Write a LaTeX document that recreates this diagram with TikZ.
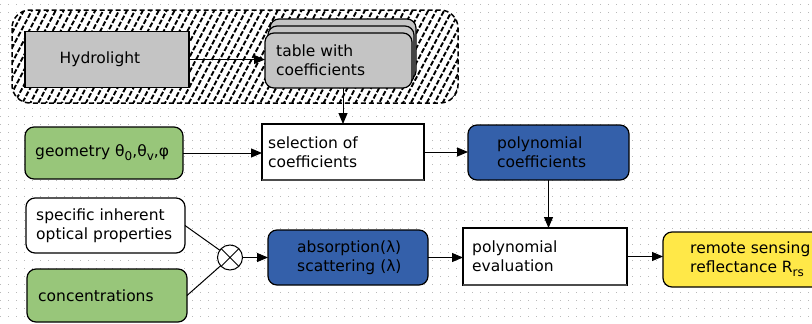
\documentclass[tikz,border=0pt]{standalone}
\usepackage{fontspec}
\setmainfont{DejaVu Sans}
\usetikzlibrary{arrows.meta,patterns.meta}
\definecolor{boxgray}{RGB}{196,196,196}
\definecolor{boxgreen}{RGB}{152,198,122}
\definecolor{boxblue}{RGB}{52,96,170}
\definecolor{boxyellow}{RGB}{255,232,72}
\definecolor{griddot}{RGB}{185,185,185}
\newcommand{\lsub}[1]{\raisebox{-0.45ex}{\fontsize{12}{12}\selectfont #1}}
\begin{document}
\begin{tikzpicture}[x=1pt,y=-1pt,
  box/.style={draw, line width=1.2pt, inner sep=0pt, outer sep=0pt},
  rbox/.style={box, rounded corners=9pt},
  txt/.style={anchor=west, align=left, inner sep=0pt, font=\fontsize{15.5}{19}\selectfont},
  conn/.style={line width=1pt, -{Triangle[length=11pt,width=9pt]}},
  plain/.style={line width=1pt},
]
\useasboundingbox (0,0) rectangle (812,324);
\fill[white] (0,0) rectangle (812,324);
\foreach \y in {4,12,...,324}
  \draw[griddot, line width=1pt, dash pattern=on 1pt off 7pt] (0,\y) -- (812,\y);

% hatched group
\fill[white, rounded corners=18pt] (12,10) rectangle (458,103);
\draw[pattern={Lines[angle=62,distance=7pt,line width=1.9pt]}, dash pattern=on 5pt off 3pt, line width=1.5pt, rounded corners=18pt] (12,10) rectangle (458,103);

% top row
\node[box, fill=boxgray, minimum width=164pt, minimum height=56pt] (hydro) at (107,59.5) {};
\node[txt, anchor=center] (hydroT) at ([xshift=-7pt]hydro.center) {Hydrolight};

\node[rbox, fill=boxgray, minimum width=146pt, minimum height=61pt] (tab3) at (343,49.5) {};
\node[rbox, fill=boxgray, minimum width=146pt, minimum height=58pt] (tab2) at (341,55) {};
\node[rbox, fill=boxgray, minimum width=147pt, minimum height=55pt] (tab) at (338.5,60.5) {};
\node[txt] (tabT) at ([xshift=11pt]tab.west) {table with\\coefficients};

% middle row
\node[rbox, fill=boxgreen, minimum width=158pt, minimum height=52pt] (geo) at (104,153) {};
\node[txt] (geoT) at ([xshift=10pt]geo.west) {geometry θ\lsub{0},θ\lsub{v},φ};

\node[box, fill=white, minimum width=162pt, minimum height=56pt] (sel) at (343,152) {};
\draw[line width=2.4pt, gray!60!black] (sel.south west) -- (sel.south east);
\node[txt] (selT) at ([xshift=6pt]sel.west) {selection of\\coefficients};

\node[rbox, fill=boxblue, minimum width=161pt, minimum height=55pt] (pc) at (548.5,152.5) {};
\node[txt] (pcT) at ([xshift=29pt]pc.west) {polynomial\\coefficients};

% bottom rows
\node[rbox, fill=white, minimum width=159pt, minimum height=55pt] (spec) at (105.5,225.5) {};
\node[txt] (specT) at ([xshift=10pt]spec.west) {specific inherent\\optical properties};

\node[rbox, fill=boxgreen, minimum width=160pt, minimum height=53pt] (conc) at (107,295.5) {};
\node[txt] (concT) at ([xshift=11pt]conc.west) {concentrations};

\node[circle, draw, line width=1pt, fill=white, minimum size=25pt, inner sep=0pt, outer sep=0pt] (ot) at (230,257.5) {};
\draw[plain] (ot.45) -- (ot.225) (ot.135) -- (ot.-45);

\node[rbox, fill=boxblue, minimum width=160pt, minimum height=55pt] (abs) at (348,257.5) {};
\node[txt] (absT) at ([xshift=29pt]abs.west) {absorption(λ)\\scattering (λ)};

\node[box, fill=white, minimum width=164pt, minimum height=57pt] (pe) at (545,256.5) {};
\draw[line width=2.4pt, gray!60!black] (pe.south west) -- (pe.south east);
\node[txt] (peT) at ([xshift=9pt]pe.west) {polynomial\\evaluation};

\node[rbox, fill=boxyellow, minimum width=160pt, minimum height=55pt] (rs) at (743,259.5) {};
\node[txt] (rsT) at ([xshift=27pt]rs.west) {remote sensing\\reflectance R\lsub{rs}};

% connectors
\draw[conn] (hydro.east) -- (hydro.east -| tab.west);
\draw[conn] (sel.north |- tab.south) -- (sel.north);
\draw[conn] (geo.east) -- (geo.east -| sel.west);
\draw[conn] (sel.east) -- (sel.east -| pc.west);
\draw[conn] (pc.south) -- (pc.south |- pe.north);
\draw[plain] (spec.east) -- (ot);
\draw[plain] (conc.east) -- (ot);
\draw[conn] (ot.east) -- (ot.east -| abs.west);
\draw[conn] (abs.east) -- (abs.east -| pe.west);
\draw[conn] (pe.east) -- (pe.east -| rs.west);
\end{tikzpicture}
\end{document}
